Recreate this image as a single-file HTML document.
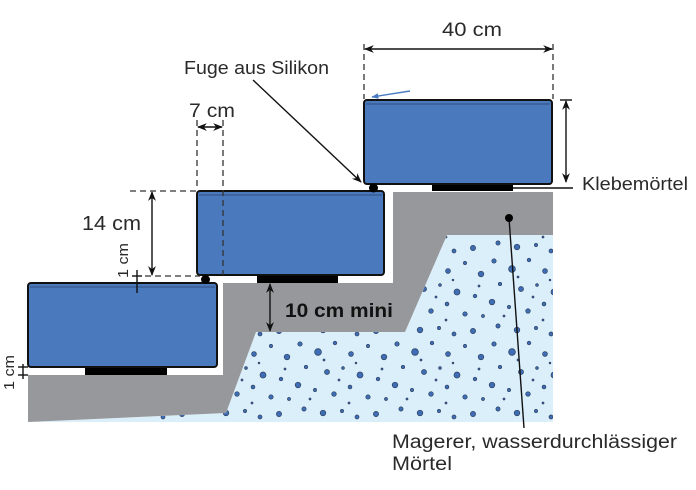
<!DOCTYPE html>
<html><head><meta charset="utf-8"><style>
html,body{margin:0;padding:0;background:#fff;}
svg{display:block;}
text{font-family:"Liberation Sans",sans-serif;fill:#2a2a2a;}
</style></head><body>
<svg width="696" height="490" viewBox="0 0 696 490" xmlns="http://www.w3.org/2000/svg">
<defs>
<marker id="ah" viewBox="0 0 10 10" refX="9" refY="5" markerWidth="7" markerHeight="7" orient="auto-start-reverse">
<path d="M0,1 L10,5 L0,9 L3,5 z" fill="#111"/></marker>
<marker id="ahb" viewBox="0 0 10 10" refX="9" refY="5" markerWidth="5" markerHeight="5" orient="auto">
<path d="M0,1 L10,5 L0,9 z" fill="#4a7ac0"/></marker>
<pattern id="dots" x="3" y="7" width="97" height="83" patternUnits="userSpaceOnUse">
<g fill="#3e6db4" stroke="#2c3f60" stroke-width="0.7">
<circle cx="6" cy="5" r="2.2"/><circle cx="24" cy="13" r="3.4"/><circle cx="41" cy="4" r="1.8"/>
<circle cx="57" cy="15" r="2.4"/><circle cx="74" cy="7" r="1.6"/><circle cx="90" cy="18" r="2.8"/>
<circle cx="12" cy="28" r="1.7"/><circle cx="33" cy="33" r="2.5"/><circle cx="49" cy="29" r="1.4"/>
<circle cx="66" cy="36" r="3"/><circle cx="84" cy="40" r="1.8"/><circle cx="4" cy="46" r="2.8"/>
<circle cx="21" cy="51" r="1.6"/><circle cx="40" cy="55" r="2.3"/><circle cx="56" cy="48" r="1.9"/>
<circle cx="74" cy="58" r="2.2"/><circle cx="92" cy="60" r="1.5"/><circle cx="10" cy="70" r="2.1"/>
<circle cx="29" cy="74" r="2.8"/><circle cx="48" cy="72" r="1.6"/><circle cx="63" cy="78" r="2"/>
<circle cx="82" cy="75" r="2.6"/><circle cx="30" cy="21" r="1"/><circle cx="45" cy="41" r="1"/>
<circle cx="16" cy="60" r="1"/><circle cx="62" cy="24" r="0.9"/><circle cx="88" cy="30" r="1"/>
<circle cx="55" cy="64" r="1"/>
</g></pattern>
</defs>

<!-- light blue gravel -->
<polygon points="28,422 226,413 256,332 405,332 447,235 553,235 553,422" fill="#dbeffb"/>
<polygon points="28,422 226,413 256,332 405,332 447,235 553,235 553,422" fill="url(#dots)"/>

<!-- gray mortar -->
<polygon points="28,375 223,375 223,283 393,283 393,192 553,192 553,235 447,235 405,332 256,332 226,413 28,422" fill="#97989b"/>

<!-- pads -->
<rect x="85" y="367" width="82" height="8" fill="#000"/>
<rect x="257" y="275" width="81" height="8" fill="#000"/>
<rect x="432" y="184" width="81" height="7" fill="#000"/>

<!-- blocks -->
<g stroke="#111" stroke-width="2">
<rect x="28" y="283" width="189" height="84" rx="3" fill="#4b79be"/>
<rect x="197" y="191" width="187" height="84" rx="3" fill="#4b79be"/>
<rect x="364" y="100" width="188" height="84" rx="3" fill="#4b79be"/>
</g>
<g stroke="#36588c" stroke-width="1.2">
<line x1="30" y1="287" x2="215" y2="287"/>
<line x1="199" y1="195" x2="382" y2="195"/>
<line x1="366" y1="104" x2="550" y2="104"/>
</g>

<!-- silicone dots -->
<circle cx="205.5" cy="279.5" r="4.5" fill="#000"/>
<circle cx="373.5" cy="188" r="4.5" fill="#000"/>

<!-- dashed guides -->
<g stroke="#333" stroke-width="1.3" stroke-dasharray="6,4" fill="none">
<line x1="197" y1="120" x2="197" y2="190"/>
<line x1="223" y1="120" x2="223" y2="275"/>
<line x1="130" y1="191" x2="196" y2="191"/>
<line x1="145" y1="276" x2="200" y2="276"/>
<line x1="364" y1="44" x2="364" y2="99"/>
<line x1="553" y1="44" x2="553" y2="99"/>
</g>

<!-- dimension arrows -->
<g stroke="#111" stroke-width="1.4" fill="none">
<line x1="198" y1="127" x2="222" y2="127" marker-start="url(#ah)" marker-end="url(#ah)"/>
<line x1="152" y1="192" x2="152" y2="275" marker-start="url(#ah)" marker-end="url(#ah)"/>
<line x1="365" y1="49" x2="552" y2="49" marker-start="url(#ah)" marker-end="url(#ah)"/>
<line x1="566" y1="101" x2="566" y2="182" marker-start="url(#ah)" marker-end="url(#ah)"/>
<line x1="270" y1="284" x2="270" y2="331" marker-start="url(#ah)" marker-end="url(#ah)"/>
<line x1="560" y1="100" x2="572" y2="100"/>
<line x1="253" y1="80" x2="361" y2="182" marker-end="url(#ah)"/>
<line x1="513" y1="188" x2="573" y2="188"/>
<line x1="509" y1="218" x2="524" y2="428"/>
<line x1="137" y1="270" x2="137" y2="293"/>
<line x1="132" y1="276" x2="142" y2="276"/>
<line x1="132" y1="283" x2="142" y2="283"/>
<line x1="23" y1="364" x2="23" y2="379"/>
<line x1="18" y1="367" x2="28" y2="367"/>
<line x1="18" y1="375" x2="28" y2="375"/>
</g>
<circle cx="509" cy="218" r="4" fill="#000"/>
<line x1="410" y1="91" x2="372" y2="97" stroke="#4a7ac0" stroke-width="1.4" marker-end="url(#ahb)"/>

<!-- labels -->
<text x="184" y="74" font-size="18" textLength="145" lengthAdjust="spacingAndGlyphs">Fuge aus Silikon</text>
<text x="189" y="117" font-size="19" textLength="46" lengthAdjust="spacingAndGlyphs">7 cm</text>
<text x="82" y="230" font-size="20" textLength="59" lengthAdjust="spacingAndGlyphs">14 cm</text>
<text x="442" y="36" font-size="19" textLength="60" lengthAdjust="spacingAndGlyphs">40 cm</text>
<text x="582" y="190" font-size="18" textLength="106" lengthAdjust="spacingAndGlyphs">Klebemörtel</text>
<text x="285" y="317" font-size="19" font-weight="bold" style="fill:#111" textLength="108" lengthAdjust="spacingAndGlyphs">10 cm mini</text>
<text x="392" y="448" font-size="19" textLength="285" lengthAdjust="spacingAndGlyphs">Magerer, wasserdurchlässiger</text>
<text x="392" y="470" font-size="19" textLength="60" lengthAdjust="spacingAndGlyphs">Mörtel</text>
<text transform="translate(128,278) rotate(-90)" font-size="15" textLength="35" lengthAdjust="spacingAndGlyphs">1 cm</text>
<text transform="translate(14,390) rotate(-90)" font-size="15" textLength="35" lengthAdjust="spacingAndGlyphs">1 cm</text>
</svg>
</body></html>
